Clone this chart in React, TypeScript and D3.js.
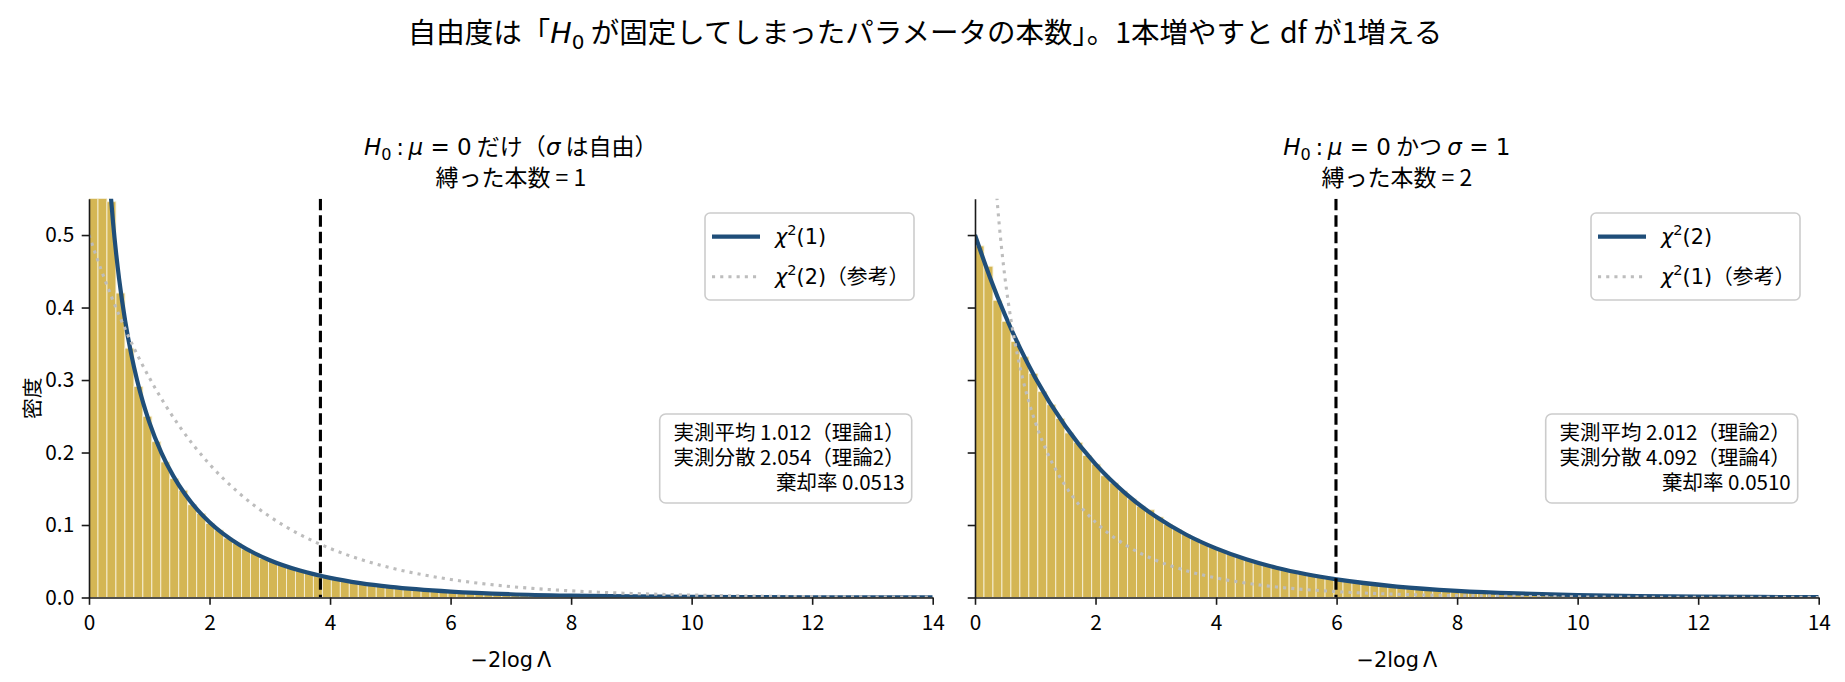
import React, { useEffect, useRef } from 'react';
import * as d3 from 'd3';

// -------- data --------
const X_MAX = 14;
const Y_MAX = 0.55;
const xTicks = [0, 2, 4, 6, 8, 10, 12, 14];
const yTicks = [0, 0.1, 0.2, 0.3, 0.4, 0.5];

// histogram densities, 94 bins on [0, 14]
const histDf1 = [
  2.01, 0.768, 0.546, 0.420, 0.344, 0.291, 0.250, 0.215, 0.187, 0.164,
  0.148, 0.128, 0.116, 0.102, 0.093, 0.082, 0.075, 0.067, 0.061, 0.054,
  0.050, 0.045, 0.041, 0.037, 0.034, 0.030, 0.028, 0.025, 0.023, 0.021,
  0.019, 0.018, 0.016, 0.015, 0.013, 0.012, 0.011, 0.010, 0.0095, 0.0086,
  0.0080, 0.0072, 0.0067, 0.0062, 0.0055, 0.0052, 0.0048, 0.0043, 0.0040, 0.0037,
  0.0034, 0.0032, 0.0028, 0.0026, 0.0024, 0.0023, 0.0020, 0.0019, 0.0018, 0.0016,
  0.0015, 0.0014, 0.0013, 0.0012, 0.0011, 0.0010, 0.0009, 0.0009, 0.0008, 0.0007,
  0.0007, 0.0006, 0.0006, 0.0005, 0.0005, 0.0005, 0.0004, 0.0004, 0.0004, 0.0003,
  0.0003, 0.0003, 0.0003, 0.0002, 0.0002, 0.0002, 0.0002, 0.0002, 0.0001, 0.0001,
  0.0001, 0.0001, 0.0001, 0.0001,
];
const histDf2 = [
  0.485, 0.457, 0.410, 0.381, 0.353, 0.332, 0.309, 0.284, 0.266, 0.247,
  0.227, 0.214, 0.196, 0.184, 0.168, 0.158, 0.147, 0.136, 0.126, 0.121,
  0.111, 0.101, 0.094, 0.087, 0.081, 0.075, 0.069, 0.065, 0.060, 0.055,
  0.052, 0.048, 0.044, 0.041, 0.038, 0.035, 0.033, 0.031, 0.028, 0.026,
  0.0245, 0.0226, 0.0212, 0.0195, 0.0183, 0.0167, 0.0157, 0.0144, 0.0136, 0.0124,
  0.0117, 0.0107, 0.0101, 0.0092, 0.0087, 0.0080, 0.0075, 0.0068, 0.0064, 0.0059,
  0.0055, 0.0051, 0.0047, 0.0044, 0.0041, 0.0038, 0.0035, 0.0033, 0.0030, 0.0028,
  0.0026, 0.0024, 0.0023, 0.0021, 0.0019, 0.0018, 0.0017, 0.0016, 0.0015, 0.0013,
  0.0013, 0.0012, 0.0011, 0.0010, 0.0009, 0.0009, 0.0008, 0.0007, 0.0007, 0.0006,
  0.0006, 0.0005, 0.0005, 0.0005,
];

// chi2(1) curve points
const curveX1 = [0.05, 0.1, 0.15, 0.2, 0.25, 0.3, 0.35, 0.4, 0.45, 0.5, 0.6, 0.7, 0.8, 0.9, 1.0,
  1.2, 1.4, 1.6, 1.8, 2.0, 2.5, 3.0, 3.5, 4.0, 4.5, 5.0, 6, 7, 8, 9, 10, 11, 12, 13, 14];
const chi2df1 = [1.740, 1.200, 0.9556, 0.8071, 0.7041, 0.6269, 0.5661, 0.5164, 0.4749, 0.4394,
  0.3815, 0.3360, 0.2990, 0.2681, 0.2420, 0.1999, 0.1674, 0.1417, 0.1209, 0.1038, 0.0723,
  0.0514, 0.0371, 0.0270, 0.0198, 0.0146, 0.0081, 0.0045, 0.0026, 0.0015, 0.00085, 0.00049,
  0.00029, 0.00017, 0.0001];

// chi2(2) curve points
const curveX2 = [0, 0.25, 0.5, 0.75, 1, 1.5, 2, 2.5, 3, 3.5, 4, 4.5, 5, 5.5, 6, 7, 8, 9, 10, 11, 12, 13, 14];
const chi2df2 = [0.5, 0.4412, 0.3894, 0.3436, 0.3033, 0.2362, 0.1839, 0.1433, 0.1116, 0.0869,
  0.0677, 0.0527, 0.0410, 0.0320, 0.0249, 0.0151, 0.0092, 0.0056, 0.0034, 0.0020, 0.0012,
  0.00075, 0.00046];

const criticalValues = [3.84, 5.99];
const boundCounts = ['1', '2'];
const statsLeft = ['実測平均 1.012（理論1）', '実測分散 2.054（理論2）', '棄却率 0.0513'];
const statsRight = ['実測平均 2.012（理論2）', '実測分散 4.092（理論4）', '棄却率 0.0510'];

// -------- styling --------
const W = 1845;
const H = 682;
const CJK = "'Noto Sans CJK JP', 'Noto Sans', sans-serif";
const MATH = "'DejaVu Sans', sans-serif";
const BAR = '#d4b654';
const BLUE = '#1f4e79';
const GREY = '#bdbdbd';

type Seg = { t: string; m?: boolean; u?: boolean; sub?: boolean; sup?: boolean };

// text with mathtext-like pieces (italic letters, sub/superscripts)
function rich(parent: any, x: number, y: number, segs: Seg[], size: number, anchor = 'middle') {
  const text = parent.append('text')
    .attr('x', x).attr('y', y)
    .attr('text-anchor', anchor)
    .style('font-size', `${size}px`)
    .style('font-family', CJK)
    .style('white-space', 'pre')
    .attr('fill', '#000');
  let shift = 0;
  segs.forEach((s) => {
    const ts = text.append('tspan').text(s.t);
    const target = s.sub ? size * 0.22 : s.sup ? -size * 0.42 : 0;
    if (target !== shift) { ts.attr('dy', target - shift); shift = target; }
    if (s.sub || s.sup) ts.style('font-size', `${size * 0.7}px`);
    if (s.m || s.u || s.sub || s.sup) ts.style('font-family', MATH);
    if (s.m) ts.style('font-style', 'italic');
  });
  return text;
}

const App: React.FC = () => {
  const svgRef = useRef<SVGSVGElement | null>(null);

  useEffect(() => {
    if (!svgRef.current) return;
    const svg = d3.select(svgRef.current);
    svg.selectAll('*').remove();

    const top = 198.8;
    const bottom = 597.5;
    const y = d3.scaleLinear().domain([0, Y_MAX]).range([bottom, top]);

    const panels = [
      {
        x0: 89, x1: 932.7, hist: histDf1,
        main: { xs: curveX1, ys: chi2df1 }, ref: { xs: curveX2, ys: chi2df2 },
        crit: criticalValues[0], stats: statsLeft, showY: true,
        title: [
          { t: 'H', m: true }, { t: '0', sub: true }, { t: '\u2009:\u2009', u: true }, { t: 'μ', m: true },
          { t: ' = 0', u: true }, { t: ' だけ（' }, { t: 'σ', m: true }, { t: ' は自由）' },
        ] as Seg[],
        count: boundCounts[0],
        legend: [
          [{ t: 'χ', m: true }, { t: '2', sup: true }, { t: '(1)', u: true }],
          [{ t: 'χ', m: true }, { t: '2', sup: true }, { t: '(2)', u: true }, { t: '（参考）' }],
        ] as Seg[][],
      },
      {
        x0: 975, x1: 1818.7, hist: histDf2,
        main: { xs: curveX2, ys: chi2df2 }, ref: { xs: curveX1, ys: chi2df1 },
        crit: criticalValues[1], stats: statsRight, showY: false,
        title: [
          { t: 'H', m: true }, { t: '0', sub: true }, { t: '\u2009:\u2009', u: true }, { t: 'μ', m: true },
          { t: ' = 0', u: true }, { t: ' かつ ' }, { t: 'σ', m: true }, { t: ' = 1', u: true },
        ] as Seg[],
        count: boundCounts[1],
        legend: [
          [{ t: 'χ', m: true }, { t: '2', sup: true }, { t: '(2)', u: true }],
          [{ t: 'χ', m: true }, { t: '2', sup: true }, { t: '(1)', u: true }, { t: '（参考）' }],
        ] as Seg[][],
      },
    ];

    // suptitle
    rich(svg, 925, 43, [
      { t: '自由度は「' }, { t: 'H', m: true }, { t: '0', sub: true },
      { t: ' が固定してしまったパラメータの本数」。1本増やすと df が1増える' },
    ], 28.5);

    // y label
    svg.append('text')
      .attr('transform', `translate(31,${(top + bottom) / 2}) rotate(-90)`)
      .attr('text-anchor', 'middle')
      .attr('dominant-baseline', 'central')
      .style('font-family', CJK)
      .style('font-size', '20.8px')
      .text('密度');

    panels.forEach((p, i) => {
      const x = d3.scaleLinear().domain([0, X_MAX]).range([p.x0, p.x1]);
      const g = svg.append('g');
      const clipId = `clip-${i}`;
      svg.append('clipPath').attr('id', clipId)
        .append('rect').attr('x', p.x0).attr('y', top).attr('width', p.x1 - p.x0).attr('height', bottom - top);
      const plot = g.append('g').attr('clip-path', `url(#${clipId})`);

      // histogram
      const bw = X_MAX / p.hist.length;
      plot.selectAll('rect.bar').data(p.hist).enter().append('rect')
        .attr('class', 'bar')
        .attr('x', (_d, k) => x(k * bw))
        .attr('width', x(bw) - x(0))
        .attr('y', (d) => y(d))
        .attr('height', (d) => bottom - y(d))
        .attr('fill', BAR)
        .attr('stroke', '#f7f0d8')
        .attr('stroke-width', 0.9);

      const mk = (xs: number[], ys: number[]) => d3.line<number>()
        .x((_d, k) => x(xs[k]))
        .y((d) => y(d))
        .curve(d3.curveMonotoneX)(ys);

      // main curve
      plot.append('path').attr('d', mk(p.main.xs, p.main.ys) as string)
        .attr('fill', 'none').attr('stroke', BLUE).attr('stroke-width', 4.2);
      // reference curve
      plot.append('path').attr('d', mk(p.ref.xs, p.ref.ys) as string)
        .attr('fill', 'none').attr('stroke', GREY).attr('stroke-width', 3.1)
        .attr('stroke-dasharray', '3.1,5.1');
      // critical value
      plot.append('line')
        .attr('x1', x(p.crit)).attr('x2', x(p.crit))
        .attr('y1', top).attr('y2', bottom)
        .attr('stroke', '#000').attr('stroke-width', 3.1)
        .attr('stroke-dasharray', '11.5,5');

      // axes
      const xAxis = g.append('g').attr('transform', `translate(0,${bottom})`)
        .call(d3.axisBottom(x).tickValues(xTicks).tickSize(7.3).tickSizeOuter(0).tickPadding(10).tickFormat((d) => `${d}`));
      const yAxis = g.append('g').attr('transform', `translate(${p.x0},0)`)
        .call(d3.axisLeft(y).tickValues(yTicks).tickSize(7.3).tickSizeOuter(0).tickPadding(7.5)
          .tickFormat((d) => (p.showY ? d3.format('.1f')(d as number) : '')));
      [xAxis, yAxis].forEach((a) => {
        a.attr('font-family', CJK).attr('font-size', 20.8);
        a.select('.domain').attr('stroke', '#1a1a1a').attr('stroke-width', 1.6);
        a.selectAll('.tick line').attr('stroke', '#1a1a1a').attr('stroke-width', 1.6);
        a.selectAll('.tick text').attr('fill', '#000');
      });

      // x label
      rich(g, (p.x0 + p.x1) / 2, 667, [{ t: '−2log\u2009Λ', u: true }], 20.8);

      // titles
      const cx = (p.x0 + p.x1) / 2;
      rich(g, cx, 155, p.title, 23);
      rich(g, cx, 186, [{ t: `縛った本数 = ${p.count}` }], 23);

      // legend
      const lx = p.x1 - 18.7 - 209;
      g.append('rect').attr('x', lx).attr('y', 213).attr('width', 209).attr('height', 87)
        .attr('rx', 5).attr('fill', '#fff').attr('fill-opacity', 0.8)
        .attr('stroke', '#cccccc').attr('stroke-width', 1.6);
      p.legend.forEach((segs, k) => {
        const ly = 236.7 + k * 40;
        g.append('line').attr('x1', lx + 7).attr('x2', lx + 55).attr('y1', ly).attr('y2', ly)
          .attr('stroke', k === 0 ? BLUE : GREY)
          .attr('stroke-width', k === 0 ? 4.2 : 3.1)
          .attr('stroke-dasharray', k === 0 ? null : '3.1,5.1');
        rich(g, lx + 70, ly + 7.5, segs, 20.8, 'start');
      });

      // stats box
      const bx1 = p.x1 - 21;
      g.append('rect').attr('x', bx1 - 252).attr('y', 414).attr('width', 252).attr('height', 89)
        .attr('rx', 6).attr('fill', '#fff').attr('fill-opacity', 0.85)
        .attr('stroke', '#cccccc').attr('stroke-width', 1.6);
      p.stats.forEach((s, k) => {
        g.append('text').attr('x', bx1 - 7).attr('y', 440 + k * 25)
          .attr('text-anchor', 'end')
          .style('font-family', CJK).style('font-size', '20.5px')
          .text(s);
      });
    });
  }, []);

  return (
    <svg
      ref={svgRef}
      width={W}
      height={H}
      style={{ position: 'absolute', left: 0, top: 0, background: '#fff' }}
    />
  );
};

export default App;
